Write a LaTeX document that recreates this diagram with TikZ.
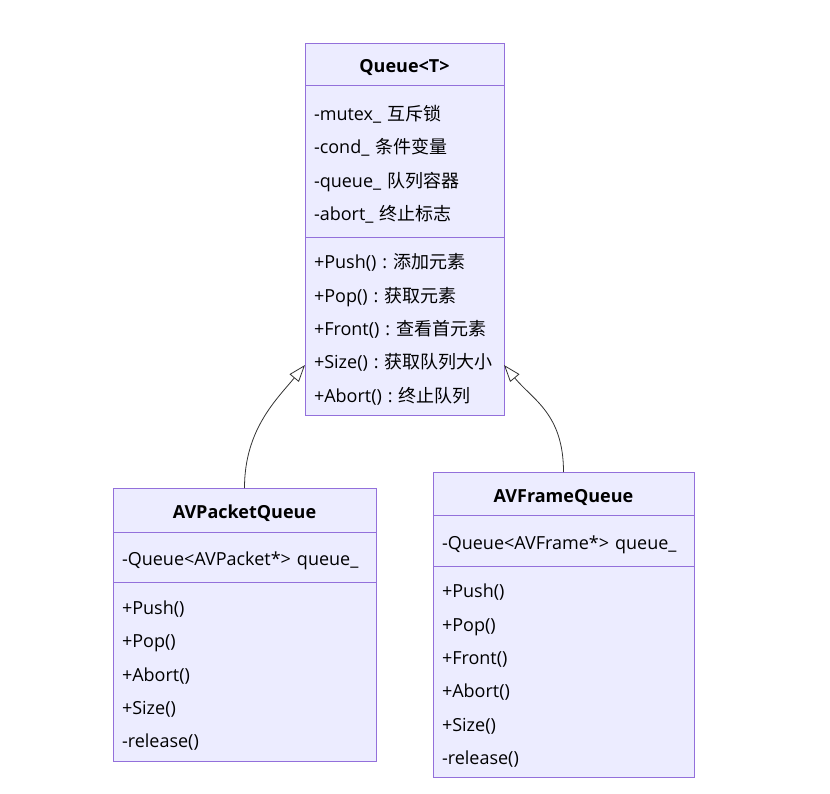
\documentclass[tikz,border=0pt]{standalone}
\usepackage{fontspec}
\setmainfont{Open Sans}
\newfontfamily\cjk{Noto Sans CJK SC}
\usetikzlibrary{arrows.meta, positioning}
\definecolor{classfill}{HTML}{ECECFF}
\definecolor{classline}{HTML}{9370DB}
\definecolor{edgeline}{HTML}{333333}

\begin{document}
\begin{tikzpicture}[
    x=1pt, y=-1pt,
    part/.style={draw=classline, fill=classfill, line width=1pt, outer sep=0pt,
                 inner xsep=9pt, inner ysep=0pt, align=left,
                 font=\fontsize{18}{33.3}\selectfont,
                 execute at begin node={\rule{0pt}{22pt}}},
    title/.style={draw=classline, fill=classfill, line width=1pt, outer sep=0pt,
                  inner ysep=0pt, text height=17pt, text depth=0pt,
                  font=\fontsize{18}{20}\selectfont\bfseries},
    inherit/.style={draw=edgeline, line width=0.8pt,
                    -{Triangle[length=17pt, width=12pt, fill=white, line width=0.8pt]}},
    node distance=0pt
  ]
  \useasboundingbox (0,0) rectangle (830,793);

  % Base class
  \node[title, minimum width=199pt, minimum height=42pt, anchor=north west] (qtitle) at (305,43) {Queue<T>};
  \node[part, text width=181pt, minimum height=152pt, below=of qtitle] (qattr)
    {-mutex\_~{\cjk 互斥锁}\\-cond\_~{\cjk 条件变量}\\-queue\_~{\cjk 队列容器}\\-abort\_~{\cjk 终止标志}};
  \node[part, text width=181pt, minimum height=178pt, below=of qattr] (qmeth)
    {+Push()~:~{\cjk 添加元素}\\+Pop()~:~{\cjk 获取元素}\\+Front()~:~{\cjk 查看首元素}\\+Size()~:~{\cjk 获取队列大小}\\+Abort()~:~{\cjk 终止队列}};

  % Packet queue
  \node[title, minimum width=263pt, minimum height=44pt, anchor=north west] (ptitle) at (113,488) {AVPacketQueue};
  \node[part, text width=245pt, minimum height=50pt, below=of ptitle] (pattr)
    {-Queue<AVPacket*>~queue\_};
  \node[part, text width=245pt, minimum height=179pt, below=of pattr] (pmeth)
    {+Push()\\+Pop()\\+Abort()\\+Size()\\-release()};

  % Frame queue
  \node[title, minimum width=261pt, minimum height=43pt, anchor=north west] (ftitle) at (433,472) {AVFrameQueue};
  \node[part, text width=243pt, minimum height=51pt, below=of ftitle] (fattr)
    {-Queue<AVFrame*>~queue\_};
  \node[part, text width=243pt, minimum height=211pt, below=of fattr] (fmeth)
    {+Push()\\+Pop()\\+Front()\\+Abort()\\+Size()\\-release()};

  % Inheritance
  \draw[inherit] (ptitle.north) .. controls +(0,-58) and +(-29,35) .. ([yshift=50pt]qmeth.south west);
  \draw[inherit] (ftitle.north) .. controls +(0,-58) and +(29,35) .. ([yshift=50pt]qmeth.south east);
\end{tikzpicture}
\end{document}
